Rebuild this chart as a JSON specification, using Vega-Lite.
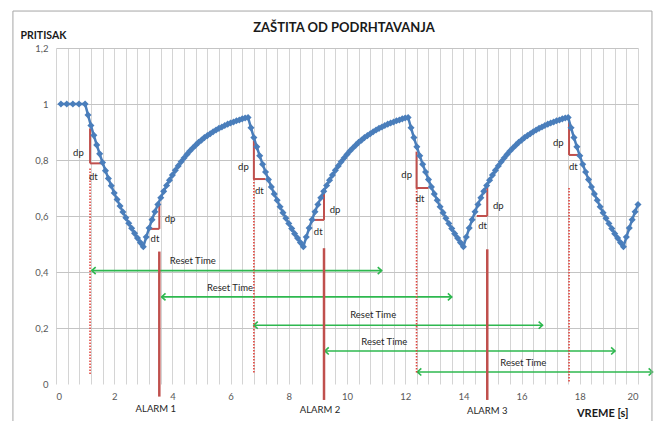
{
  "$schema": "https://vega.github.io/schema/vega-lite/v6.json",
  "width": 582,
  "height": 336,
  "autosize": {"type": "none"},
  "padding": {"left": 56, "top": 48, "right": 16, "bottom": 37},
  "background": "white",
  "config": {
    "view": {"stroke": null},
    "font": "Lato",
    "axis": {"domain": false, "ticks": false, "labelFont": "Lato", "labelColor": "#595959", "labelFontSize": 9.5, "titleFont": "Lato"}
  },
  "title": {"text": "ZAŠTITA OD PODRHTAVANJA", "fontSize": 13, "fontWeight": "bold", "color": "#1a1a1a", "anchor": "middle", "frame": "group", "offset": -24, "dx": -3},
  "resolve": {"scale": {"x": "shared", "y": "shared"}, "axis": {"x": "independent"}},
  "datasets": {
    "series": [
      {"t": 0.17, "p": 1.0}, {"t": 0.37, "p": 1.0}, {"t": 0.58, "p": 1.0}, {"t": 0.79, "p": 1.0}, {"t": 1.0, "p": 1.0},
      {"t": 1.1, "p": 0.961}, {"t": 1.2, "p": 0.923}, {"t": 1.3, "p": 0.888}, {"t": 1.4, "p": 0.854}, {"t": 1.5, "p": 0.822}, {"t": 1.6, "p": 0.791}, {"t": 1.7, "p": 0.762}, {"t": 1.8, "p": 0.734}, {"t": 1.9, "p": 0.708}, {"t": 2.0, "p": 0.682}, {"t": 2.1, "p": 0.659}, {"t": 2.2, "p": 0.636}, {"t": 2.3, "p": 0.614}, {"t": 2.4, "p": 0.594}, {"t": 2.5, "p": 0.574}, {"t": 2.6, "p": 0.556}, {"t": 2.7, "p": 0.538}, {"t": 2.8, "p": 0.521}, {"t": 2.9, "p": 0.505}, {"t": 3.0, "p": 0.49},
      {"t": 3.1, "p": 0.525}, {"t": 3.2, "p": 0.557}, {"t": 3.3, "p": 0.587}, {"t": 3.4, "p": 0.615}, {"t": 3.5, "p": 0.641}, {"t": 3.6, "p": 0.665}, {"t": 3.7, "p": 0.688}, {"t": 3.8, "p": 0.709}, {"t": 3.9, "p": 0.728}, {"t": 4.0, "p": 0.746}, {"t": 4.1, "p": 0.763}, {"t": 4.2, "p": 0.779}, {"t": 4.3, "p": 0.794}, {"t": 4.4, "p": 0.807}, {"t": 4.5, "p": 0.82}, {"t": 4.6, "p": 0.832}, {"t": 4.7, "p": 0.843}, {"t": 4.8, "p": 0.853}, {"t": 4.9, "p": 0.863}, {"t": 5.0, "p": 0.871}, {"t": 5.1, "p": 0.88}, {"t": 5.2, "p": 0.887}, {"t": 5.3, "p": 0.894}, {"t": 5.4, "p": 0.901}, {"t": 5.5, "p": 0.907}, {"t": 5.6, "p": 0.913}, {"t": 5.7, "p": 0.918}, {"t": 5.8, "p": 0.923}, {"t": 5.9, "p": 0.928}, {"t": 6.0, "p": 0.932}, {"t": 6.1, "p": 0.936}, {"t": 6.2, "p": 0.94}, {"t": 6.3, "p": 0.943}, {"t": 6.4, "p": 0.947}, {"t": 6.5, "p": 0.95}, {"t": 6.6, "p": 0.952},
      {"t": 6.7, "p": 0.915}, {"t": 6.8, "p": 0.88}, {"t": 6.9, "p": 0.847}, {"t": 7.0, "p": 0.815}, {"t": 7.1, "p": 0.785}, {"t": 7.2, "p": 0.757}, {"t": 7.3, "p": 0.73}, {"t": 7.4, "p": 0.704}, {"t": 7.5, "p": 0.679}, {"t": 7.6, "p": 0.656}, {"t": 7.7, "p": 0.633}, {"t": 7.8, "p": 0.612}, {"t": 7.9, "p": 0.592}, {"t": 8.0, "p": 0.573}, {"t": 8.1, "p": 0.555}, {"t": 8.2, "p": 0.537}, {"t": 8.3, "p": 0.521}, {"t": 8.4, "p": 0.505}, {"t": 8.5, "p": 0.49},
      {"t": 8.6, "p": 0.525}, {"t": 8.7, "p": 0.557}, {"t": 8.8, "p": 0.587}, {"t": 8.9, "p": 0.615}, {"t": 9.0, "p": 0.641}, {"t": 9.1, "p": 0.665}, {"t": 9.2, "p": 0.688}, {"t": 9.3, "p": 0.709}, {"t": 9.4, "p": 0.728}, {"t": 9.5, "p": 0.746}, {"t": 9.6, "p": 0.763}, {"t": 9.7, "p": 0.779}, {"t": 9.8, "p": 0.794}, {"t": 9.9, "p": 0.807}, {"t": 10.0, "p": 0.82}, {"t": 10.1, "p": 0.832}, {"t": 10.2, "p": 0.843}, {"t": 10.3, "p": 0.853}, {"t": 10.4, "p": 0.863}, {"t": 10.5, "p": 0.871}, {"t": 10.6, "p": 0.88}, {"t": 10.7, "p": 0.887}, {"t": 10.8, "p": 0.894}, {"t": 10.9, "p": 0.901}, {"t": 11.0, "p": 0.907}, {"t": 11.1, "p": 0.913}, {"t": 11.2, "p": 0.918}, {"t": 11.3, "p": 0.923}, {"t": 11.4, "p": 0.928}, {"t": 11.5, "p": 0.932}, {"t": 11.6, "p": 0.936}, {"t": 11.7, "p": 0.94}, {"t": 11.8, "p": 0.943}, {"t": 11.9, "p": 0.947}, {"t": 12.0, "p": 0.95}, {"t": 12.1, "p": 0.952},
      {"t": 12.2, "p": 0.915}, {"t": 12.3, "p": 0.88}, {"t": 12.4, "p": 0.847}, {"t": 12.5, "p": 0.815}, {"t": 12.6, "p": 0.785}, {"t": 12.7, "p": 0.757}, {"t": 12.8, "p": 0.73}, {"t": 12.9, "p": 0.704}, {"t": 13.0, "p": 0.679}, {"t": 13.1, "p": 0.656}, {"t": 13.2, "p": 0.633}, {"t": 13.3, "p": 0.612}, {"t": 13.4, "p": 0.592}, {"t": 13.5, "p": 0.573}, {"t": 13.6, "p": 0.555}, {"t": 13.7, "p": 0.537}, {"t": 13.8, "p": 0.521}, {"t": 13.9, "p": 0.505}, {"t": 14.0, "p": 0.49},
      {"t": 14.1, "p": 0.525}, {"t": 14.2, "p": 0.557}, {"t": 14.3, "p": 0.587}, {"t": 14.4, "p": 0.615}, {"t": 14.5, "p": 0.641}, {"t": 14.6, "p": 0.665}, {"t": 14.7, "p": 0.688}, {"t": 14.8, "p": 0.709}, {"t": 14.9, "p": 0.728}, {"t": 15.0, "p": 0.746}, {"t": 15.1, "p": 0.763}, {"t": 15.2, "p": 0.779}, {"t": 15.3, "p": 0.794}, {"t": 15.4, "p": 0.807}, {"t": 15.5, "p": 0.82}, {"t": 15.6, "p": 0.832}, {"t": 15.7, "p": 0.843}, {"t": 15.8, "p": 0.853}, {"t": 15.9, "p": 0.863}, {"t": 16.0, "p": 0.871}, {"t": 16.1, "p": 0.88}, {"t": 16.2, "p": 0.887}, {"t": 16.3, "p": 0.894}, {"t": 16.4, "p": 0.901}, {"t": 16.5, "p": 0.907}, {"t": 16.6, "p": 0.913}, {"t": 16.7, "p": 0.918}, {"t": 16.8, "p": 0.923}, {"t": 16.9, "p": 0.928}, {"t": 17.0, "p": 0.932}, {"t": 17.1, "p": 0.936}, {"t": 17.2, "p": 0.94}, {"t": 17.3, "p": 0.943}, {"t": 17.4, "p": 0.947}, {"t": 17.5, "p": 0.95}, {"t": 17.6, "p": 0.952},
      {"t": 17.7, "p": 0.915}, {"t": 17.8, "p": 0.88}, {"t": 17.9, "p": 0.847}, {"t": 18.0, "p": 0.815}, {"t": 18.1, "p": 0.785}, {"t": 18.2, "p": 0.757}, {"t": 18.3, "p": 0.73}, {"t": 18.4, "p": 0.704}, {"t": 18.5, "p": 0.679}, {"t": 18.6, "p": 0.656}, {"t": 18.7, "p": 0.633}, {"t": 18.8, "p": 0.612}, {"t": 18.9, "p": 0.592}, {"t": 19.0, "p": 0.573}, {"t": 19.1, "p": 0.555}, {"t": 19.2, "p": 0.537}, {"t": 19.3, "p": 0.521}, {"t": 19.4, "p": 0.505}, {"t": 19.5, "p": 0.49},
      {"t": 19.6, "p": 0.525}, {"t": 19.7, "p": 0.557}, {"t": 19.8, "p": 0.587}, {"t": 19.9, "p": 0.615}, {"t": 20.0, "p": 0.641}
    ],
    "segs": [
      {"kind": "dpdt", "x1": 1.17, "x2": 1.17, "y1": 0.913, "y2": 0.788},
      {"kind": "dpdt", "x1": 1.17, "x2": 1.55, "y1": 0.788, "y2": 0.788},
      {"kind": "dpdt", "x1": 6.8, "x2": 6.8, "y1": 0.87, "y2": 0.732},
      {"kind": "dpdt", "x1": 6.8, "x2": 7.2, "y1": 0.732, "y2": 0.732},
      {"kind": "dpdt", "x1": 12.39, "x2": 12.39, "y1": 0.83, "y2": 0.7},
      {"kind": "dpdt", "x1": 12.39, "x2": 12.8, "y1": 0.7, "y2": 0.7},
      {"kind": "dpdt", "x1": 17.63, "x2": 17.63, "y1": 0.949, "y2": 0.818},
      {"kind": "dpdt", "x1": 17.63, "x2": 18.0, "y1": 0.818, "y2": 0.818},
      {"kind": "dpdt", "x1": 3.23, "x2": 3.55, "y1": 0.554, "y2": 0.554},
      {"kind": "dpdt", "x1": 3.55, "x2": 3.55, "y1": 0.554, "y2": 0.649},
      {"kind": "dpdt", "x1": 8.84, "x2": 9.21, "y1": 0.586, "y2": 0.586},
      {"kind": "dpdt", "x1": 9.21, "x2": 9.21, "y1": 0.586, "y2": 0.687},
      {"kind": "dpdt", "x1": 14.46, "x2": 14.82, "y1": 0.6, "y2": 0.6},
      {"kind": "dpdt", "x1": 14.82, "x2": 14.82, "y1": 0.6, "y2": 0.71},
      {"kind": "alarm", "x1": 3.55, "x2": 3.55, "y1": 0.473, "y2": -0.045},
      {"kind": "alarm", "x1": 9.21, "x2": 9.21, "y1": 0.485, "y2": -0.057},
      {"kind": "alarm", "x1": 14.82, "x2": 14.82, "y1": 0.481, "y2": -0.057},
      {"kind": "dotted", "x1": 1.17, "x2": 1.17, "y1": 0.77, "y2": 0.032},
      {"kind": "dotted", "x1": 6.8, "x2": 6.8, "y1": 0.732, "y2": 0.04},
      {"kind": "dotted", "x1": 12.39, "x2": 12.39, "y1": 0.7, "y2": 0.038},
      {"kind": "dotted", "x1": 17.63, "x2": 17.63, "y1": 0.7, "y2": 0.008}
    ],
    "arrows": [
      {"x1": 1.23, "x2": 11.19, "y": 0.405},
      {"x1": 3.63, "x2": 13.6, "y": 0.311},
      {"x1": 6.8, "x2": 16.72, "y": 0.21},
      {"x1": 9.24, "x2": 19.21, "y": 0.118},
      {"x1": 12.42, "x2": 20.5, "y": 0.043}
    ],
    "labels": [
      {"t": 0.77, "p": 0.826, "text": "dp"}, {"t": 1.28, "p": 0.738, "text": "dt"},
      {"t": 6.44, "p": 0.776, "text": "dp"}, {"t": 6.99, "p": 0.69, "text": "dt"},
      {"t": 12.05, "p": 0.746, "text": "dp"}, {"t": 12.51, "p": 0.66, "text": "dt"},
      {"t": 17.26, "p": 0.86, "text": "dp"}, {"t": 17.78, "p": 0.776, "text": "dt"},
      {"t": 3.92, "p": 0.588, "text": "dp"}, {"t": 3.4, "p": 0.517, "text": "dt"},
      {"t": 9.59, "p": 0.621, "text": "dp"}, {"t": 9.01, "p": 0.544, "text": "dt"},
      {"t": 15.2, "p": 0.636, "text": "dp"}, {"t": 14.66, "p": 0.564, "text": "dt"},
      {"t": 4.7, "p": 0.439, "text": "Reset Time"},
      {"t": 5.98, "p": 0.343, "text": "Reset Time"},
      {"t": 10.9, "p": 0.246, "text": "Reset Time"},
      {"t": 11.28, "p": 0.15, "text": "Reset Time"},
      {"t": 16.06, "p": 0.076, "text": "Reset Time"},
      {"t": 3.43, "p": -0.091, "text": "ALARM 1"},
      {"t": 9.07, "p": -0.093, "text": "ALARM 2"},
      {"t": 14.82, "p": -0.096, "text": "ALARM 3"}
    ]
  },
  "layer": [
    {
      "data": {"name": "arrows"},
      "mark": {"type": "rule", "color": "#2eb84f", "strokeWidth": 1.6},
      "encoding": {
        "x": {
          "field": "x1", "type": "quantitative",
          "scale": {"domain": [0, 20], "nice": false, "zero": false},
          "axis": {
            "orient": "bottom",
            "grid": true,
            "labels": false,
            "title": null,
            "values": [0, 0.4, 0.8, 1.2, 1.6, 2, 2.4, 2.8, 3.2, 3.6, 4, 4.4, 4.8, 5.2, 5.6, 6, 6.4, 6.8, 7.2, 7.6, 8, 8.4, 8.8, 9.2, 9.6, 10, 10.4, 10.8, 11.2, 11.6, 12, 12.4, 12.8, 13.2, 13.6, 14, 14.4, 14.8, 15.2, 15.6, 16, 16.4, 16.8, 17.2, 17.6, 18, 18.4, 18.8, 19.2, 19.6, 20],
            "gridColor": "#d4d4d4",
            "gridWidth": 1
          }
        },
        "x2": {"field": "x2"},
        "y": {
          "field": "y", "type": "quantitative",
          "scale": {"domain": [0, 1.2], "nice": false},
          "axis": {
            "grid": true,
            "values": [0, 0.2, 0.4, 0.6, 0.8, 1, 1.2],
            "labelExpr": "replace(format(datum.value, '~g'), '.', ',')",
            "labelPadding": 8,
            "gridColor": {"condition": {"test": "datum.value == 0", "value": "transparent"}, "value": "#c4c4c4"},
            "title": "PRITISAK",
            "titleAngle": 0,
            "titleFontSize": 10.5,
            "titleFontWeight": "bold",
            "titleColor": "#1a1a1a",
            "titleAlign": "left",
            "titleBaseline": "alphabetic",
            "titleX": -36,
            "titleY": -10
          }
        }
      }
    },
    {
      "data": {"name": "arrows"},
      "mark": {"type": "point", "shape": "M1.1,-1L0,0L1.1,1", "filled": false, "stroke": "#2eb84f", "strokeWidth": 1.6, "size": 50, "opacity": 1},
      "encoding": {
        "x": {"field": "x1", "type": "quantitative", "axis": null},
        "y": {"field": "y", "type": "quantitative"}
      }
    },
    {
      "data": {"name": "arrows"},
      "mark": {"type": "point", "shape": "M-1.1,-1L0,0L-1.1,1", "filled": false, "stroke": "#2eb84f", "strokeWidth": 1.6, "size": 50, "opacity": 1},
      "encoding": {
        "x": {"field": "x2", "type": "quantitative", "axis": null},
        "y": {"field": "y", "type": "quantitative"}
      }
    },
    {
      "data": {"name": "segs"},
      "transform": [{"filter": "datum.kind == 'dotted'"}],
      "mark": {"type": "rule", "color": "#e0443c", "strokeWidth": 1.6, "strokeDash": [1.5, 1.5]},
      "encoding": {
        "x": {"field": "x1", "type": "quantitative", "axis": null},
        "x2": {"field": "x2"},
        "y": {"field": "y1", "type": "quantitative"},
        "y2": {"field": "y2"}
      }
    },
    {
      "data": {"name": "segs"},
      "transform": [{"filter": "datum.kind == 'alarm'"}],
      "mark": {"type": "rule", "color": "#c0504d", "strokeWidth": 2.5},
      "encoding": {
        "x": {"field": "x1", "type": "quantitative", "axis": null},
        "x2": {"field": "x2"},
        "y": {"field": "y1", "type": "quantitative"},
        "y2": {"field": "y2"}
      }
    },
    {
      "data": {"name": "segs"},
      "transform": [{"filter": "datum.kind == 'dpdt'"}],
      "mark": {"type": "rule", "color": "#c0504d", "strokeWidth": 2},
      "encoding": {
        "x": {"field": "x1", "type": "quantitative", "axis": null},
        "x2": {"field": "x2"},
        "y": {"field": "y1", "type": "quantitative"},
        "y2": {"field": "y2"}
      }
    },
    {
      "data": {"name": "series"},
      "mark": {"type": "line", "color": "#4a7ebb", "strokeWidth": 2.5, "point": {"shape": "diamond", "size": 50, "filled": true, "color": "#4a7ebb", "opacity": 1}},
      "encoding": {
        "x": {
          "field": "t", "type": "quantitative",
          "axis": {
            "orient": "bottom",
            "grid": false,
            "values": [0, 2, 4, 6, 8, 10, 12, 14, 16, 18, 20],
            "format": "d",
            "labelOverlap": false,
            "labelPadding": 7,
            "title": "VREME [s]",
            "titleFontSize": 11,
            "titleFontWeight": "bold",
            "titleColor": "#1a1a1a",
            "titleAlign": "right",
            "titleBaseline": "alphabetic",
            "titleX": 572,
            "titleY": 32
          }
        },
        "y": {"field": "p", "type": "quantitative"}
      }
    },
    {
      "data": {"name": "labels"},
      "mark": {"type": "text", "font": "Lato", "fontSize": 9.5, "color": "#262626", "align": "center", "baseline": "middle"},
      "encoding": {
        "x": {"field": "t", "type": "quantitative", "axis": null},
        "y": {"field": "p", "type": "quantitative"},
        "text": {"field": "text"}
      }
    },
    {
      "data": {"values": [{}]},
      "mark": {"type": "rect", "fill": "transparent", "stroke": "#a6a6a6", "strokeWidth": 1},
      "encoding": {
        "x": {"datum": -1.48, "type": "quantitative", "axis": null},
        "x2": {"datum": 20.48},
        "y": {"datum": 1.332, "type": "quantitative"},
        "y2": {"datum": -0.16}
      }
    }
  ]
}
